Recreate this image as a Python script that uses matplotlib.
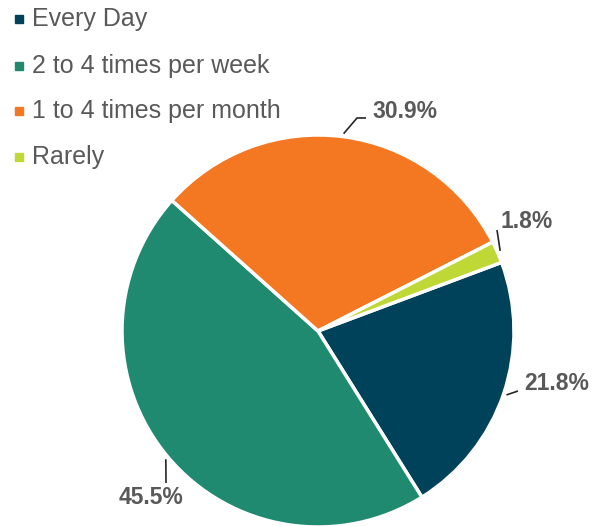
import numpy as np
import matplotlib.pyplot as plt

plt.rcParams['font.family'] = ['Liberation Sans', 'DejaVu Sans']

labels = ['Every Day', '2 to 4 times per week', '1 to 4 times per month', 'Rarely']
values = [21.8, 45.5, 30.9, 1.8]
colors = ['#00425a', '#1f8a70', '#f47822', '#bfd836']

H = 526
cx, cy, r = 318, 331, 196
start = 20.5

fig = plt.figure(figsize=(6, 5.26), dpi=100)
ax = fig.add_axes([0, 0, 1, 1])

wedges, _ = ax.pie(values, colors=colors, startangle=start, counterclock=False,
                   center=(cx, H - cy), radius=r, frame=True,
                   wedgeprops=dict(edgecolor='white', linewidth=2.5))
ax.set_xlim(0, 600)
ax.set_ylim(0, H)
ax.set_aspect('equal')
ax.axis('off')

# label text positions (pixels) and leader elbow points
label_pos = [(557, 384), (151, 498), (405, 111), (527, 222)]
elbows = [[(518, 391)], [(166, 483)], [(357, 118), (366, 118)], [(497, 230)]]

for w, v, (tx, ty), el in zip(wedges, values, label_pos, elbows):
    mid = np.deg2rad((w.theta1 + w.theta2) / 2)
    sx = cx + r * np.cos(mid)
    sy = cy - r * np.sin(mid)
    pts = [(sx + 3 * np.cos(mid), sy - 3 * np.sin(mid))] + el
    xs = [p[0] for p in pts]
    ys = [H - p[1] for p in pts]
    ax.plot(xs, ys, color='#262626', lw=1.2, solid_capstyle='butt')
    ax.text(tx, H - ty, f'{v}%', ha='center', va='center', fontsize=16.5,
            fontweight='bold', color='#595959')

# legend
leg_y = [19, 66, 111, 157]
for lab, col, y in zip(labels, colors, leg_y):
    ax.plot([19], [H - y], marker='s', markersize=6, color=col, ls='none')
    ax.text(32, H - y, lab, ha='left', va='center', fontsize=18, color='#595959')

fig.savefig('out.png', dpi=100)
